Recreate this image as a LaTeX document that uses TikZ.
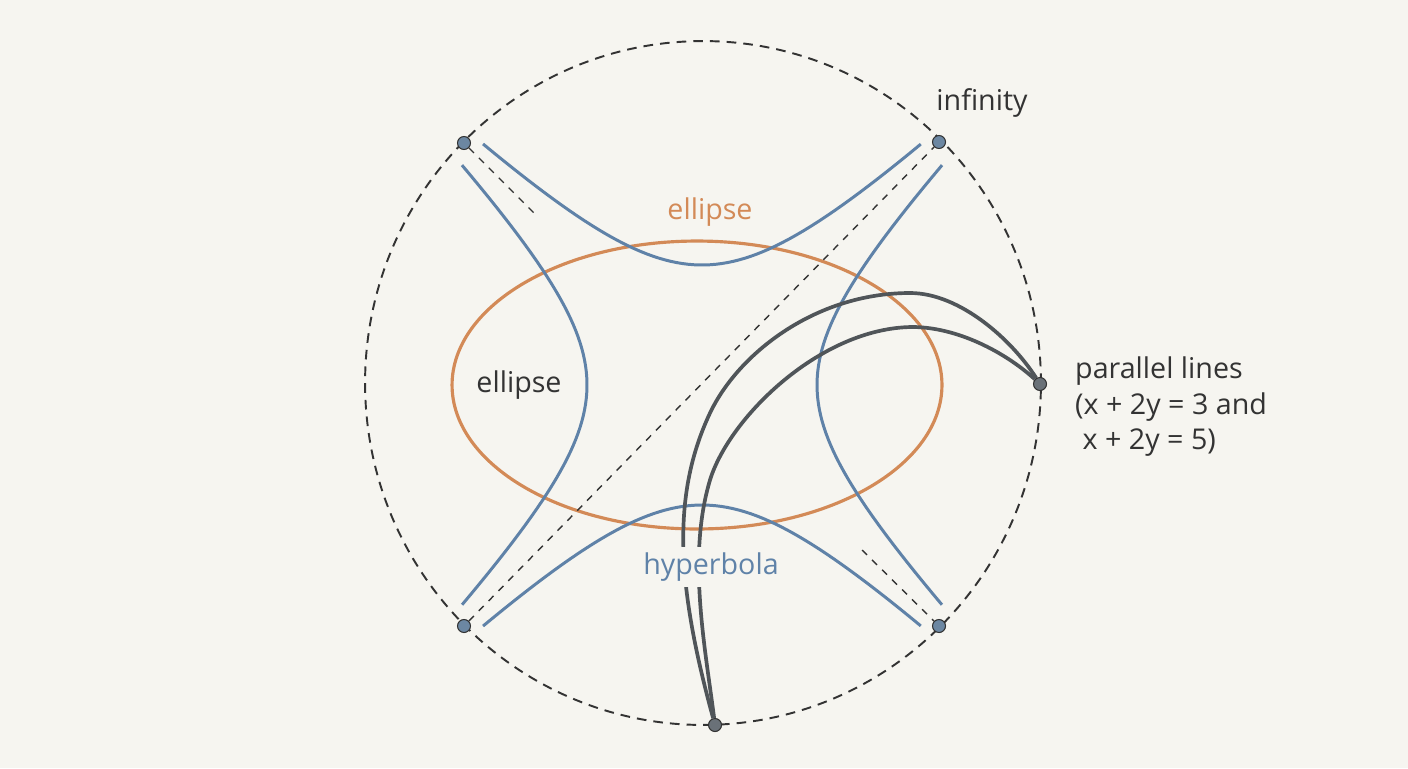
\documentclass[tikz,border=0pt]{standalone}
\usepackage{fontspec}
\setmainfont{Open Sans}
\usetikzlibrary{positioning}

\definecolor{bgpaper}{HTML}{F6F5F0}
\definecolor{hypblue}{HTML}{5F82A8}
\definecolor{ellorange}{HTML}{D38A57}
\definecolor{linegrey}{HTML}{505559}
\definecolor{dotblue}{HTML}{6C87A2}
\definecolor{dotgrey}{HTML}{6A7178}
\definecolor{inkgrey}{HTML}{333333}

\tikzset{
  pt/.style={circle, draw=inkgrey, line width=0.6pt, fill=dotblue, inner sep=0pt, minimum size=7.4pt},
  ptgrey/.style={pt, fill=dotgrey},
  rim/.style={draw=inkgrey, line width=1.1pt, dash pattern=on 5.5pt off 4pt},
  asym/.style={draw=inkgrey, line width=0.8pt, dash pattern=on 4pt off 4pt},
  hyp/.style={draw=hypblue, line width=1.7pt},
  ell/.style={draw=ellorange, line width=1.8pt},
  par/.style={draw=linegrey, line width=2.1pt},
  lbl/.style={font=\fontsize{16.3}{20.2}\selectfont, text=inkgrey},
}

\begin{document}
\begin{tikzpicture}[x=0.02cm, y=-0.02cm]
        \fill[bgpaper] (0,0) rectangle (1408,768);
        \useasboundingbox (0,0) rectangle (1408,768);

        %Horizont
        \draw[rim] (703,383) ellipse [x radius=6.76cm, y radius=6.84cm];

        %Ellipse
        \draw[ell] (697,385) ellipse [x radius=4.9cm, y radius=2.88cm];

        %Hyperbeln
        \begin{scope}[shift={(702,385)}]
            \draw[hyp] plot[domain=-1.322:1.322, samples=60, variable=\t] ({125.7*sinh(\t)}, {-120*cosh(\t)});
            \draw[hyp] plot[domain=-1.322:1.322, samples=60, variable=\t] ({125.7*sinh(\t)}, {120*cosh(\t)});
            \draw[hyp] plot[domain=-1.366:1.366, samples=60, variable=\t] ({-115*cosh(\t)}, {120*sinh(\t)});
            \draw[hyp] plot[domain=-1.366:1.366, samples=60, variable=\t] ({115*cosh(\t)}, {120*sinh(\t)});
        \end{scope}

        %Punkte im Unendlichen
        \node[pt](tl) at (464,143){};
        \node[pt](tr) at (939,142){};
        \node[pt](bl) at (464,626){};
        \node[pt](br) at (939,626){};
        \node[ptgrey](pr) at (1040,384){};
        \node[ptgrey](pb) at (715,725){};
        \coordinate (tlend) at (536,215);
        \coordinate (brend) at (862,550);

        %Asymptoten
        \draw[asym] (bl) -- (tr);
        \draw[asym] (tl) -- (tlend);
        \draw[asym] (brend) -- (br);

        %Parallelen
        \draw[par] (pb) .. controls (678,590) and (670,498) .. (710,413)
            .. controls (738,354) and (815,293) .. (910,293)
            .. controls (960,293) and (1012,340) .. (pr);
        \draw[par] (pb) .. controls (705,646) and (687,557) .. (710,480)
            .. controls (729,418) and (820,328) .. (912,327)
            .. controls (957,327) and (1005,352) .. (pr);

        %Beschriftung
        \node[lbl, text=ellorange](elltop) at (710,212){ellipse};
        \node[lbl](ellleft) at (519,385){ellipse};
        \node[lbl, text=hypblue, fill=bgpaper](hyplbl) at (711,567){hyperbola};
        \node[lbl](inf) at (982,103){infinity};
        \node[lbl, align=left, anchor=west](parlbl) at (1069,407){parallel lines\\(x + 2y = 3 and\\\ x + 2y = 5)};
    \end{tikzpicture}
\end{document}
